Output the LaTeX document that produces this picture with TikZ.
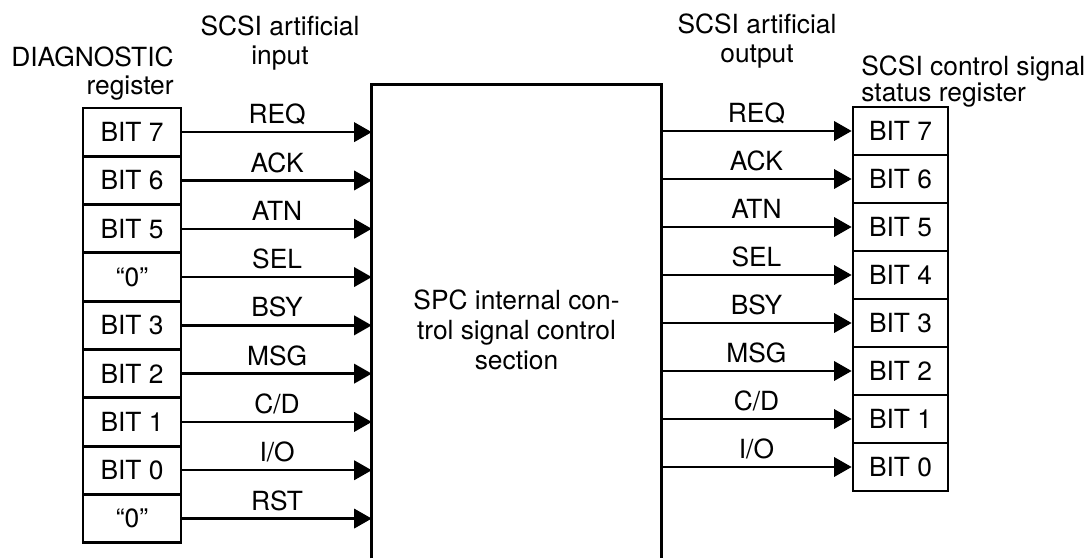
\documentclass[tikz,border=0pt]{standalone}
\usepackage{fontspec}
\setmainfont{TeX Gyre Heros}
\usetikzlibrary{arrows.meta,positioning}
\newcommand{\sigfont}{\fontsize{15}{17}\selectfont}
\newcommand{\headfont}{\fontsize{15}{16.8}\selectfont}
\tikzset{
  boxline/.style ={draw=black, line width=1.6pt},
  lreg/.style    ={boxline, minimum width=55.8pt, minimum height=27.5pt,
                   inner sep=0pt, font=\sigfont},
  rreg/.style    ={boxline, minimum width=54pt, minimum height=27.3pt,
                   inner sep=0pt, font=\sigfont},
  sigarr/.style  ={-{Triangle[length=10pt,width=11pt]}, line width=1.4pt},
  siglbl/.style  ={midway, anchor=base, yshift=4.8pt, inner sep=0pt, font=\sigfont},
  headtxt/.style ={inner sep=0pt, font=\headfont},
}
\begin{document}
\begin{tikzpicture}[x=0.02cm,y=-0.02cm]
  \useasboundingbox (0,0) rectangle (1092,558);

  % control section, open at the bottom
  \node[minimum width=164.4pt, minimum height=269.1pt, inner sep=0pt] (core) at (516.5,321.5) {};
  \draw[boxline] (core.south west) -- (core.north west) -- (core.north east) -- (core.south east);
  \node[inner sep=0pt, font=\sigfont, align=center] (coretxt) at (516.5,330)
    {SPC internal con-\\trol signal control\\section};

  % registers
  \foreach \b [count=\i] in {BIT 7,BIT 6,BIT 5,“0”,BIT 3,BIT 2,BIT 1,BIT 0,“0”}
    \node[lreg] (dl\i) at (132,{108+48.3*(\i-0.5)}) {\b};
  \foreach \b [count=\i] in {BIT 7,BIT 6,BIT 5,BIT 4,BIT 3,BIT 2,BIT 1,BIT 0}
    \node[rreg] (sr\i) at (900.5,{107+48*(\i-0.5)}) {\b};

  % signals
  \foreach \s [count=\i] in {REQ,ACK,ATN,SEL,BSY,MSG,C/D,I/O,RST}
    \draw[sigarr] (dl\i.east) -- node[siglbl] {\s} (dl\i.east -| core.west);
  \foreach \s [count=\i] in {REQ,ACK,ATN,SEL,BSY,MSG,C/D,I/O}
    \draw[sigarr] (core.east |- sr\i.west) -- node[siglbl] {\s} (sr\i.west);

  % headings
  \node[headtxt, align=right, anchor=north east, font=\fontsize{15}{16}\selectfont]
    (dghead) at (174,46) {DIAGNOSTIC\\register};
  \node[headtxt, align=center, anchor=north] (inhead) at (280,15)
    {SCSI artificial\\input};
  \node[headtxt, align=center, anchor=north] (outhead) at (757,13)
    {SCSI artificial\\output};
  \node[headtxt, align=left, anchor=north west, font=\fontsize{15}{15}\selectfont]
    (sthead) at (861,55) {SCSI control signal\\status register};
\end{tikzpicture}
\end{document}
